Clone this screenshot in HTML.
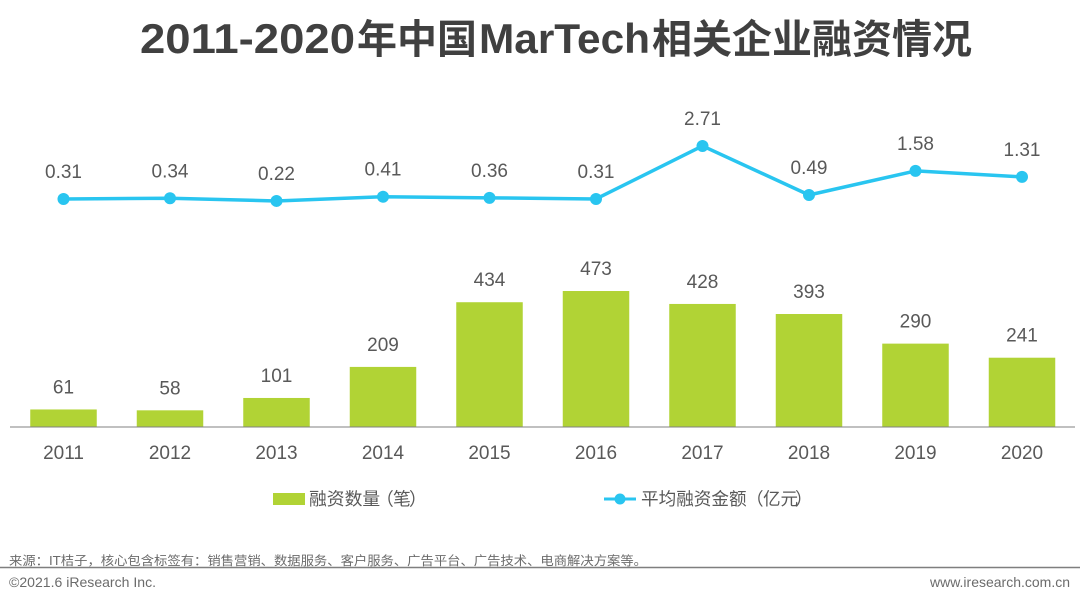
<!DOCTYPE html>
<html lang="zh">
<head>
<meta charset="utf-8">
<title>2011-2020年中国MarTech相关企业融资情况</title>
<style>
html,body{margin:0;padding:0;background:#fff;}
body{width:1080px;height:603px;overflow:hidden;}
svg{display:block;font-family:"Liberation Sans","Noto Sans CJK SC",sans-serif;}
</style>
</head>
<body>
<svg id="chart" width="1080" height="603" viewBox="0 0 1080 603" xmlns="http://www.w3.org/2000/svg">
  <text y="53" font-size="42" font-weight="700" fill="#404040"><tspan x="140" textLength="215" lengthAdjust="spacingAndGlyphs">2011-2020</tspan><tspan x="357" font-size="40">年中国</tspan><tspan x="479" textLength="171" lengthAdjust="spacingAndGlyphs">MarTech</tspan><tspan x="652" font-size="40">相关企业融资情况</tspan></text>
  <g id="bars"></g>
  <line x1="10" y1="427" x2="1075" y2="427" stroke="#808080" stroke-width="1"></line>
  <g id="xlabels"></g>
  <g id="line"></g>
  <g>
    <rect x="273" y="493" width="32" height="12" fill="#b1d335"></rect>
    <text y="505" font-size="17.8" fill="#595959"><tspan x="309">融资数量</tspan><tspan x="376 393 409">（笔）</tspan></text>
  </g>
  <g>
    <line x1="604" y1="499" x2="636" y2="499" stroke="#29c5f0" stroke-width="3"></line>
    <circle cx="620" cy="499" r="5.5" fill="#29c5f0"></circle>
    <text y="505" font-size="17.6" fill="#595959"><tspan x="641">平均融资金额</tspan><tspan x="746 763 780.5 795">（亿元）</tspan></text>
  </g>
  <text x="9" y="565" font-size="12.5" fill="#6b6b6b" textLength="638" lengthAdjust="spacingAndGlyphs">来源：IT桔子，核心包含标签有：销售营销、数据服务、客户服务、广告平台、广告技术、电商解决方案等。</text>
  <line x1="0" y1="567.5" x2="1080" y2="567.5" stroke="#7f7f7f" stroke-width="1.5"></line>
  <text x="9" y="587" font-size="14" fill="#6b6b6b" textLength="147" lengthAdjust="spacingAndGlyphs">©2021.6 iResearch Inc.</text>
  <text x="930" y="587" font-size="14" fill="#6b6b6b" textLength="140" lengthAdjust="spacingAndGlyphs">www.iresearch.com.cn</text>
</svg>
<script>
const categories = ['2011','2012','2013','2014','2015','2016','2017','2018','2019','2020'];
const dealCounts = [61,58,101,209,434,473,428,393,290,241];
const avgFunding = [0.31,0.34,0.22,0.41,0.36,0.31,2.71,0.49,1.58,1.31];

const NS = 'http://www.w3.org/2000/svg';
const xCenter = i => 63.5 + 106.5 * i;
const yBar = v => 427 - v * 0.2875;
const yLine = v => 205.8 - v * 22.08;
const BAR_W = 66.5;

function make(tag, attrs, parent, txt) {
  const el = document.createElementNS(NS, tag);
  for (const k in attrs) el.setAttribute(k, attrs[k]);
  if (txt !== undefined) el.textContent = txt;
  parent.appendChild(el);
  return el;
}

const barsG = document.getElementById('bars');
const xG = document.getElementById('xlabels');
const lineG = document.getElementById('line');

categories.forEach((c, i) => {
  const v = dealCounts[i];
  const top = yBar(v);
  const bar = make('rect', {x: xCenter(i) - BAR_W / 2, y: top, width: BAR_W, height: 427 - top, fill: '#b1d335'}, barsG);
  
  
  const lab = make('text', {x: xCenter(i), y: top - 16, 'text-anchor': 'middle', 'font-size': 19, fill: '#595959'}, barsG, String(v));
  
  
  const xl = make('text', {x: xCenter(i), y: 459, 'text-anchor': 'middle', 'font-size': 19, fill: '#595959'}, xG, c);
  
  
});

const pts = avgFunding.map((v, i) => xCenter(i) + ',' + yLine(v)).join(' ');
const poly = make('polyline', {points: pts, fill: 'none', stroke: '#29c5f0', 'stroke-width': 3.5, 'stroke-linejoin': 'round'}, lineG);



avgFunding.forEach((v, i) => {
  const y = yLine(v);
  const dot = make('circle', {cx: xCenter(i), cy: y, r: 6, fill: '#29c5f0'}, lineG);
  
  
  const lab = make('text', {x: xCenter(i), y: y - 21, 'text-anchor': 'middle', 'font-size': 19, fill: '#595959'}, lineG, v.toFixed(2));
  
  
});
</script>
</body>
</html>
